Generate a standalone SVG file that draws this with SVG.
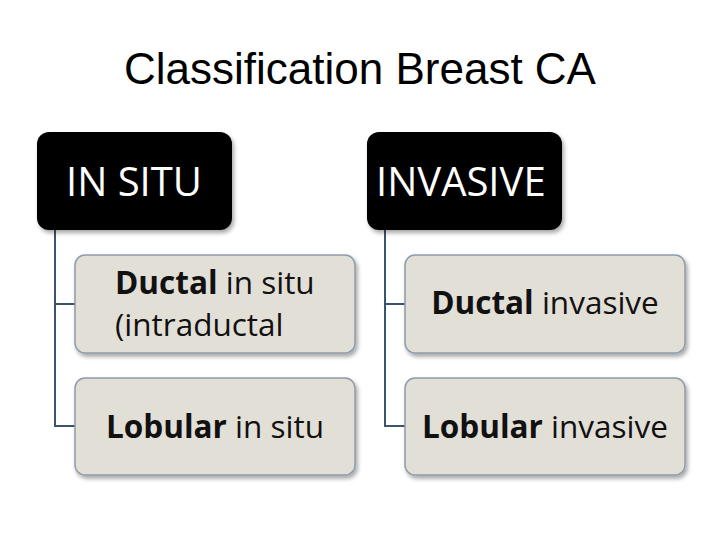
<svg xmlns="http://www.w3.org/2000/svg" width="720" height="540" viewBox="0 0 720 540">
<style>
.t{font-family:"Liberation Sans",Arial,sans-serif;font-size:44px;fill:#000}
.h{fill:#000}
.hl{font-family:"Open Sans","Noto Sans",sans-serif;font-size:40px;fill:#fff}
.c{fill:#e2dfd7;stroke:#8e9cab;stroke-width:1.5}
.ct{font-family:"Open Sans","Noto Sans",sans-serif;font-size:31.5px;fill:#111}
.b{font-weight:bold}
.ln{stroke:#3b5270;stroke-width:2;fill:none}
</style>
<defs><filter id="s" x="-10%" y="-10%" width="130%" height="140%"><feDropShadow dx="2" dy="3" stdDeviation="2" flood-opacity="0.35"/></filter></defs>
<rect width="720" height="540" fill="#fff"/>
<text class="t" x="360" y="84" text-anchor="middle">Classification Breast CA</text>
<g id="connectors">
<path class="ln" d="M55 230 V426 H75 M55 304 H75"/>
<path class="ln" d="M385 230 V426 H405 M385 304 H405"/>
</g>
<g id="insitu"><rect class="h" x="37" y="132" width="195" height="98" rx="12" filter="url(#s)"/><text class="hl" x="66" y="196">IN SITU</text></g>
<g id="invasive"><rect class="h" x="367" y="132" width="195" height="98" rx="12" filter="url(#s)"/><text class="hl" x="376" y="196">INVASIVE</text></g>
<g id="ductal-insitu"><rect class="c" x="75" y="255" width="280" height="98" rx="10" filter="url(#s)"/><text class="ct" x="115" y="294"><tspan class="b">Ductal</tspan> in situ</text><text class="ct" x="115" y="336">(intraductal</text></g>
<g id="lobular-insitu"><rect class="c" x="75" y="378" width="280" height="97" rx="10" filter="url(#s)"/><text class="ct" x="215" y="438" text-anchor="middle"><tspan class="b">Lobular</tspan> in situ</text></g>
<g id="ductal-invasive"><rect class="c" x="405" y="255" width="280" height="98" rx="10" filter="url(#s)"/><text class="ct" x="545" y="314" text-anchor="middle"><tspan class="b">Ductal</tspan> invasive</text></g>
<g id="lobular-invasive"><rect class="c" x="405" y="378" width="280" height="97" rx="10" filter="url(#s)"/><text class="ct" x="545" y="438" text-anchor="middle"><tspan class="b">Lobular</tspan> invasive</text></g>
</svg>
